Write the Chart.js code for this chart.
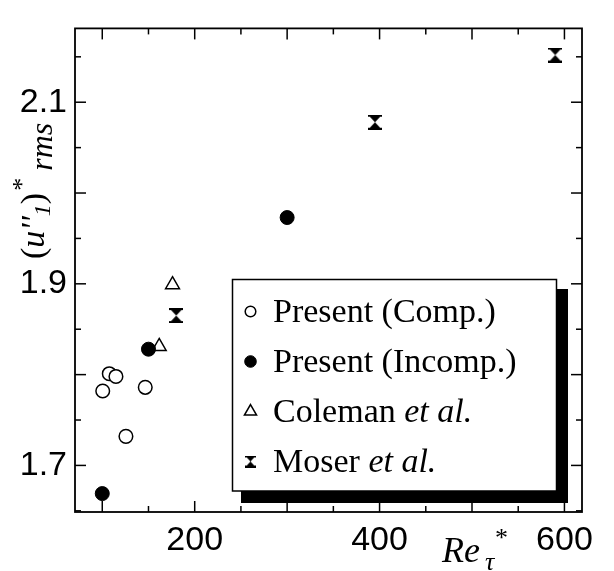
<!DOCTYPE html>
<html>
<head>
<meta charset="utf-8">
<script src="https://cdn.jsdelivr.net/npm/chart.js@4.4.1/dist/chart.umd.min.js"></script>
<style>
  body { margin: 0; background: #fff; }
</style>
</head>
<body>
<canvas id="myChart" width="614" height="571"></canvas>
<script>
// values: Re_tau* against (u''1)*rms
var compRe = [100.5, 107.6, 114.8, 125.6, 146.5];
var compU = [1.782, 1.801, 1.798, 1.732, 1.786];
var incompRe = [100, 150, 300];
var incompU = [1.669, 1.828, 1.973];
var colemanRe = [161.6, 176];
var colemanU = [1.831, 1.899];
var moserRe = [180, 395, 590];
var moserU = [1.865, 2.078, 2.152];
var seriesNames = ['Present (Comp.)', 'Present (Incomp.)', 'Coleman et al.', 'Moser et al.'];
var xTicks = [100, 150, 200, 250, 300, 350, 400, 450, 500, 550, 600];
var yTicks = [1.65, 1.7, 1.75, 1.8, 1.85, 1.9, 1.95, 2.0, 2.05, 2.1, 2.15];
var xTickLabels = [200, 400, 600];
var yTickLabels = [1.7, 1.9, 2.1];

var SERIF = "'Liberation Serif', 'Times New Roman', serif";
var SANS = "'Liberation Sans', Arial, sans-serif";

function pts(xs, ys) {
    return xs.map(function (x, i) { return { x: x, y: ys[i] }; });
}

function hourglass(w, h) {
    var c = document.createElement('canvas');
    c.width = w; c.height = h;
    var g = c.getContext('2d');
    g.fillStyle = '#000';
    g.fillRect(0, 0, w, 2);
    g.fillRect(0, h - 2, w, 2);
    g.beginPath();
    g.moveTo(0, 0); g.lineTo(w, 0); g.lineTo(w / 2, h / 2);
    g.lineTo(w, h); g.lineTo(0, h); g.lineTo(w / 2, h / 2);
    g.closePath();
    g.fill();
    return c;
}
var hgBig = hourglass(14, 15);
var hgSmall = hourglass(11, 12);

function line(ctx, x1, y1, x2, y2) {
    ctx.beginPath(); ctx.moveTo(x1, y1); ctx.lineTo(x2, y2); ctx.stroke();
}

function isMajor(v, step) {
    return Math.abs(v / step - Math.round(v / step)) < 1e-6;
}

// frame with inward ticks on all four sides
var framePlugin = {
    id: 'frame',
    beforeDraw: function (chart) {
        var ctx = chart.ctx;
        ctx.save();
        ctx.fillStyle = '#fff';
        ctx.fillRect(0, 0, chart.width, chart.height);
        ctx.restore();
    },
    beforeDatasetsDraw: function (chart) {
        var ctx = chart.ctx, a = chart.chartArea;
        var xs = chart.scales.x, ys = chart.scales.y;
        ctx.save();
        ctx.strokeStyle = '#000';
        ctx.lineWidth = 1.5;
        xs.ticks.forEach(function (t) {
            var px = xs.getPixelForValue(t.value);
            var len = isMajor(t.value, 100) ? 11 : 6;
            line(ctx, px, a.bottom, px, a.bottom - len);
            line(ctx, px, a.top, px, a.top + len);
        });
        ys.ticks.forEach(function (t) {
            var py = ys.getPixelForValue(t.value);
            var len = isMajor(t.value, 0.1) ? 11 : 6;
            line(ctx, a.left, py, a.left + len, py);
            line(ctx, a.right, py, a.right - len, py);
        });
        ctx.lineWidth = 1.8;
        ctx.strokeRect(a.left, a.top, a.right - a.left, a.bottom - a.top);
        ctx.restore();
    },
    afterDraw: function (chart) {
        var ctx = chart.ctx;
        ctx.save();
        ctx.fillStyle = '#000';
        ctx.textBaseline = 'alphabetic';
        ctx.textAlign = 'left';

        // legend box with drop shadow
        ctx.fillRect(241, 289, 327, 214);
        ctx.fillStyle = '#fff';
        ctx.fillRect(232.5, 279.5, 324, 211.5);
        ctx.strokeStyle = '#000';
        ctx.lineWidth = 1.5;
        ctx.strokeRect(232.5, 279.5, 324, 211.5);

        chart.data.datasets.forEach(function (ds, i) {
            var base = 321.5 + i * 50;
            var my = base - 10;
            var style = ds.pointStyle === hgBig ? hgSmall : ds.pointStyle;
            ctx.fillStyle = ds.backgroundColor;
            ctx.strokeStyle = ds.borderColor;
            ctx.lineWidth = ds.borderWidth;
            Chart.helpers.drawPoint(ctx, {
                pointStyle: style, rotation: 0,
                radius: ds.legendRadius, borderWidth: ds.borderWidth
            }, 250.5, my);
            ctx.fillStyle = '#000';
            var parts = ds.label.split(' et al.');
            var x = 273;
            ctx.font = '34px ' + SERIF;
            ctx.fillText(parts[0], x, base);
            if (parts.length > 1) {
                x += ctx.measureText(parts[0] + ' ').width;
                ctx.font = 'italic 34px ' + SERIF;
                ctx.fillText('et al.', x, base);
            }
        });

        // y axis title (u''1)*rms, rotated
        ctx.fillStyle = '#000';
        ctx.translate(44, 259);
        ctx.rotate(-Math.PI / 2);
        var cx = 0;
        function put(text, font, dy) {
            ctx.font = font;
            ctx.fillText(text, cx, dy);
            cx += ctx.measureText(text).width;
        }
        put('(', '34px ' + SERIF, 0);
        put('u', 'italic 34px ' + SERIF, 0);
        put("''", 'italic 34px ' + SERIF, 0);
        put('1', 'italic 24px ' + SERIF, 6);
        put(')', '34px ' + SERIF, 0);
        ctx.font = '26px ' + SERIF;
        ctx.fillText('*', cx + 2, -14);
        cx += 22;
        put('rms', 'italic 32px ' + SERIF, 8);
        ctx.setTransform(1, 0, 0, 1, 0, 0);

        // x axis title Re_tau*
        ctx.font = 'italic 36px ' + SERIF;
        ctx.fillText('Re', 442, 562);
        ctx.font = 'italic 26px ' + SERIF;
        ctx.fillText('\u03c4', 485, 570);
        ctx.font = '26px ' + SERIF;
        ctx.fillText('*', 495, 546);
        ctx.restore();
    }
};

var ctx = document.getElementById('myChart').getContext('2d');
var chart = new Chart(ctx, {
    type: 'scatter',
    data: {
        datasets: [{
            label: seriesNames[0],
            data: pts(compRe, compU),
            pointStyle: 'circle',
            pointRadius: 6.8,
            legendRadius: 5.3,
            backgroundColor: '#fff',
            borderColor: '#000',
            borderWidth: 1.5
        }, {
            label: seriesNames[1],
            data: pts(incompRe, incompU),
            pointStyle: 'circle',
            pointRadius: 7,
            legendRadius: 5.8,
            backgroundColor: '#000',
            borderColor: '#000',
            borderWidth: 1
        }, {
            label: seriesNames[2],
            data: pts(colemanRe, colemanU),
            pointStyle: 'triangle',
            pointRadius: 8,
            legendRadius: 7,
            backgroundColor: '#fff',
            borderColor: '#000',
            borderWidth: 1.5
        }, {
            label: seriesNames[3],
            data: pts(moserRe, moserU),
            pointStyle: hgBig,
            pointRadius: 8,
            legendRadius: 6,
            backgroundColor: '#000',
            borderColor: '#000',
            borderWidth: 1
        }]
    },
    options: {
        responsive: false,
        animation: false,
        layout: { padding: { left: 0, right: 32, top: 6, bottom: 0 } },
        plugins: {
            legend: { display: false },
            tooltip: { enabled: false }
        },
        scales: {
            x: {
                type: 'linear',
                min: 70.5,
                max: 619,
                afterFit: function (s) { s.height = 59; },
                afterBuildTicks: function (s) {
                    s.ticks = xTicks.map(function (v) { return { value: v }; });
                },
                grid: { display: false, drawTicks: false },
                border: { display: false },
                ticks: {
                    autoSkip: false,
                    maxRotation: 0,
                    padding: 8,
                    color: '#000',
                    font: { family: SANS, size: 34 },
                    callback: function (v) {
                        return xTickLabels.indexOf(v) >= 0 ? String(v) : '';
                    }
                }
            },
            y: {
                type: 'linear',
                min: 1.6487,
                max: 2.1813,
                afterFit: function (s) { s.width = 75; },
                afterBuildTicks: function (s) {
                    s.ticks = yTicks.map(function (v) { return { value: v }; });
                },
                grid: { display: false, drawTicks: false },
                border: { display: false },
                ticks: {
                    autoSkip: false,
                    padding: 8,
                    color: '#000',
                    font: { family: SANS, size: 34 },
                    callback: function (v) {
                        var hit = yTickLabels.some(function (l) { return Math.abs(l - v) < 1e-6; });
                        return hit ? v.toFixed(1) : '';
                    }
                }
            }
        }
    },
    plugins: [framePlugin]
});
</script>
</body>
</html>
